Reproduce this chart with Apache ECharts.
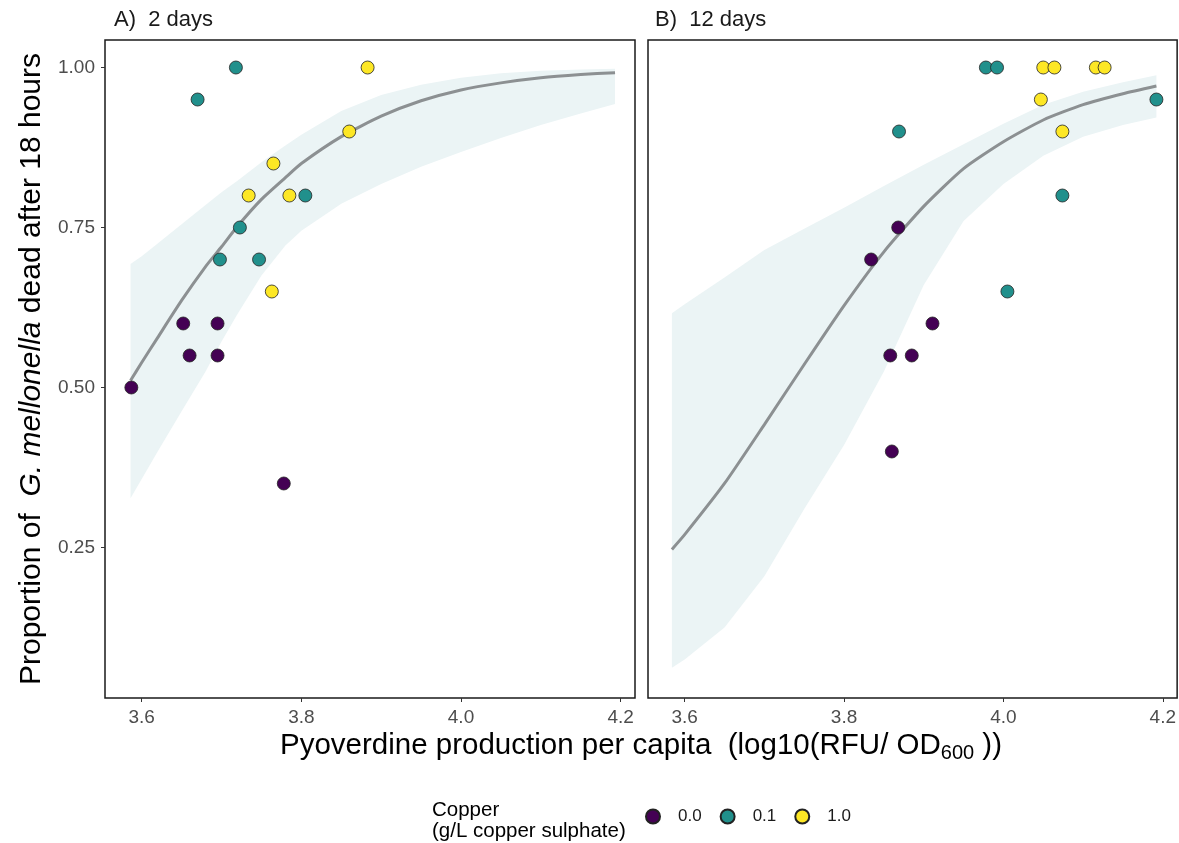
<!DOCTYPE html>
<html>
<head>
<meta charset="utf-8">
<script src="https://cdn.jsdelivr.net/npm/echarts@6/dist/echarts.min.js"></script>
<style>
html, body { margin: 0; padding: 0; background: #fff; }
#chart { width: 1179px; height: 843px; }
</style>
</head>
<body>
<div id="chart"></div>
<script>
// copper levels (g/L copper sulphate)
var copperLevels = ['0.0', '0.1', '1.0'];
var copperColors = ['#440154', '#21908c', '#fde725'];

// panel A: 2 days -- points per copper level
var a_cu0_x = [3.587, 3.652, 3.660, 3.695, 3.695, 3.778];
var a_cu0_y = [0.50, 0.60, 0.55, 0.60, 0.55, 0.35];
var a_cu1_x = [3.670, 3.718, 3.698, 3.747, 3.723, 3.805];
var a_cu1_y = [0.95, 1.00, 0.70, 0.70, 0.75, 0.80];
var a_cu2_x = [3.763, 3.765, 3.734, 3.785, 3.860, 3.883];
var a_cu2_y = [0.65, 0.85, 0.80, 0.80, 0.90, 1.00];

// panel A: fitted curve and confidence band
var a_fit_x = [3.586, 3.60, 3.62, 3.65, 3.68, 3.70, 3.72, 3.75, 3.78, 3.80, 3.85, 3.90, 3.95, 4.00, 4.05, 4.10, 4.15, 4.193];
var a_fit   = [0.511, 0.539, 0.578, 0.636, 0.689, 0.72, 0.752, 0.794, 0.828, 0.85, 0.892, 0.924, 0.948, 0.965, 0.976, 0.984, 0.989, 0.992];
var a_hi    = [0.693, 0.705, 0.725, 0.755, 0.785, 0.805, 0.823, 0.852, 0.878, 0.895, 0.932, 0.957, 0.973, 0.984, 0.991, 0.995, 0.997, 0.998];
var a_lo    = [0.327, 0.357, 0.40, 0.463, 0.525, 0.572, 0.615, 0.675, 0.722, 0.745, 0.787, 0.818, 0.845, 0.868, 0.89, 0.91, 0.928, 0.943];

// panel B: 12 days -- points per copper level
var b_cu0_x = [3.834, 3.868, 3.911, 3.858, 3.885, 3.860];
var b_cu0_y = [0.70, 0.75, 0.60, 0.55, 0.55, 0.40];
var b_cu1_x = [3.869, 3.978, 3.992, 4.005, 4.074, 4.192];
var b_cu1_y = [0.90, 1.00, 1.00, 0.65, 0.80, 0.95];
var b_cu2_x = [4.047, 4.050, 4.064, 4.074, 4.116, 4.127];
var b_cu2_y = [0.95, 1.00, 1.00, 0.90, 1.00, 1.00];

// panel B: fitted curve and confidence band
var b_fit_x = [3.584, 3.60, 3.65, 3.70, 3.75, 3.80, 3.85, 3.90, 3.95, 4.00, 4.05, 4.10, 4.15, 4.192];
var b_fit   = [0.247, 0.27, 0.35, 0.442, 0.536, 0.628, 0.712, 0.783, 0.842, 0.884, 0.918, 0.942, 0.959, 0.971];
var b_hi    = [0.616, 0.63, 0.672, 0.715, 0.748, 0.781, 0.815, 0.848, 0.88, 0.912, 0.942, 0.962, 0.977, 0.988];
var b_lo    = [0.062, 0.075, 0.125, 0.205, 0.31, 0.41, 0.525, 0.66, 0.76, 0.818, 0.862, 0.892, 0.91, 0.922];

// axis ticks
var xTicks = [3.6, 3.8, 4.0, 4.2];
var yTicks = [0.25, 0.50, 0.75, 1.00];

function pairs(xs, ys) {
    return xs.map(function (x, i) { return [x, ys[i]]; });
}

// ribbon polygon (through the axis scales) and fit line for one panel
function fitSeries(idx, xs, fit, lo, hi) {
    return [
        {
            type: 'custom', xAxisIndex: idx, yAxisIndex: idx, silent: true, z: 1,
            data: [[xs[0], fit[0]]],
            renderItem: function (params, api) {
                var pts = [];
                for (var i = 0; i < xs.length; i++) pts.push(api.coord([xs[i], hi[i]]));
                for (var j = xs.length - 1; j >= 0; j--) pts.push(api.coord([xs[j], lo[j]]));
                return { type: 'polygon', shape: { points: pts }, style: { fill: '#ebf4f5' } };
            }
        },
        {
            type: 'line', xAxisIndex: idx, yAxisIndex: idx, z: 2,
            data: pairs(xs, fit), symbol: 'none', smooth: 0.2, silent: true,
            lineStyle: { color: '#8c9092', width: 3 }
        }
    ];
}

function pointSeries(idx, level, xs, ys) {
    return {
        type: 'scatter', name: copperLevels[level], xAxisIndex: idx, yAxisIndex: idx,
        data: pairs(xs, ys), symbolSize: 13, z: 5,
        itemStyle: { color: copperColors[level], borderColor: '#222', borderWidth: 0.8, opacity: 1 }
    };
}

var series = []
    .concat(fitSeries(0, a_fit_x, a_fit, a_lo, a_hi))
    .concat(fitSeries(1, b_fit_x, b_fit, b_lo, b_hi));
series.push(pointSeries(0, 0, a_cu0_x, a_cu0_y));
series.push(pointSeries(0, 1, a_cu1_x, a_cu1_y));
series.push(pointSeries(0, 2, a_cu2_x, a_cu2_y));
series.push(pointSeries(1, 0, b_cu0_x, b_cu0_y));
series.push(pointSeries(1, 1, b_cu1_x, b_cu1_y));
series.push(pointSeries(1, 2, b_cu2_x, b_cu2_y));

var fontFam = '"Liberation Sans", Arial, sans-serif';

function makeX(idx) {
    return {
        type: 'value', gridIndex: idx, min: 3.554, max: 4.218,
        splitLine: { show: false }, axisLine: { show: false },
        axisTick: { show: true, length: 4, customValues: xTicks, lineStyle: { color: '#333' } },
        axisLabel: {
            customValues: xTicks, color: '#4d4d4d', fontSize: 19, margin: 10, fontFamily: fontFam,
            formatter: function (v) { return v.toFixed(1); }
        }
    };
}

function makeY(idx, showLabels) {
    var y = {
        type: 'value', gridIndex: idx, min: 0.0148, max: 1.043,
        splitLine: { show: false }, axisLine: { show: false },
        axisTick: { show: showLabels, length: 4, customValues: yTicks, lineStyle: { color: '#333' } },
        axisLabel: {
            show: showLabels, customValues: yTicks, color: '#4d4d4d', fontSize: 19, margin: 10, fontFamily: fontFam,
            formatter: function (v) { return v.toFixed(2); }
        }
    };
    if (showLabels) {
        y.name = '{n|Proportion of  }{i|G. mellonella}{n| dead after 18 hours}';
        y.nameLocation = 'middle';
        y.nameRotate = 90;
        y.nameGap = 58;
        y.nameTextStyle = {
            rich: {
                n: { fontSize: 30, color: '#000', fontFamily: fontFam },
                i: { fontSize: 30, color: '#000', fontFamily: fontFam, fontStyle: 'italic' }
            }
        };
    }
    return y;
}

var chart = echarts.init(document.getElementById('chart'), null, { renderer: 'canvas' });
chart.setOption({
    animation: false,
    backgroundColor: '#fff',
    textStyle: { fontFamily: fontFam },
    title: [
        { text: 'A)  2 days', left: 109, top: 4, textStyle: { fontSize: 22, fontWeight: 'normal', color: '#1a1a1a', fontFamily: fontFam } },
        { text: 'B)  12 days', left: 650, top: 4, textStyle: { fontSize: 22, fontWeight: 'normal', color: '#1a1a1a', fontFamily: fontFam } }
    ],
    grid: [
        { left: 105, top: 40, width: 530, height: 658, show: true, borderColor: '#1a1a1a', borderWidth: 1.5, backgroundColor: 'transparent' },
        { left: 648, top: 40, width: 530, height: 658, show: true, borderColor: '#1a1a1a', borderWidth: 1.5, backgroundColor: 'transparent' }
    ],
    xAxis: [makeX(0), makeX(1)],
    yAxis: [makeY(0, true), makeY(1, false)],
    legend: {
        data: copperLevels, left: 640, top: 803, orient: 'horizontal',
        icon: 'circle', itemWidth: 14, itemHeight: 14, itemGap: 18,
        textStyle: { fontSize: 17, color: '#1a1a1a', padding: [0, 0, 0, 13], fontFamily: fontFam }
    },
    graphic: [
        {
            type: 'text', x: 641, y: 729,
            style: {
                text: '{a|Pyoverdine production per capita  (log10(RFU/ OD}{s|600}{a| ))}',
                align: 'center', verticalAlign: 'top',
                rich: {
                    a: { fontSize: 29.5, lineHeight: 34, fill: '#000', fontFamily: fontFam },
                    s: { fontSize: 20, lineHeight: 20, padding: [16, 0, 0, 0], verticalAlign: 'bottom', fill: '#000', fontFamily: fontFam }
                }
            }
        },
        {
            type: 'text', left: 432, top: 800,
            style: {
                text: 'Copper\n(g/L copper sulphate)',
                fontSize: 20.5, lineHeight: 21, fill: '#000', fontFamily: fontFam
            }
        }
    ],
    series: series
});
</script>
</body>
</html>
